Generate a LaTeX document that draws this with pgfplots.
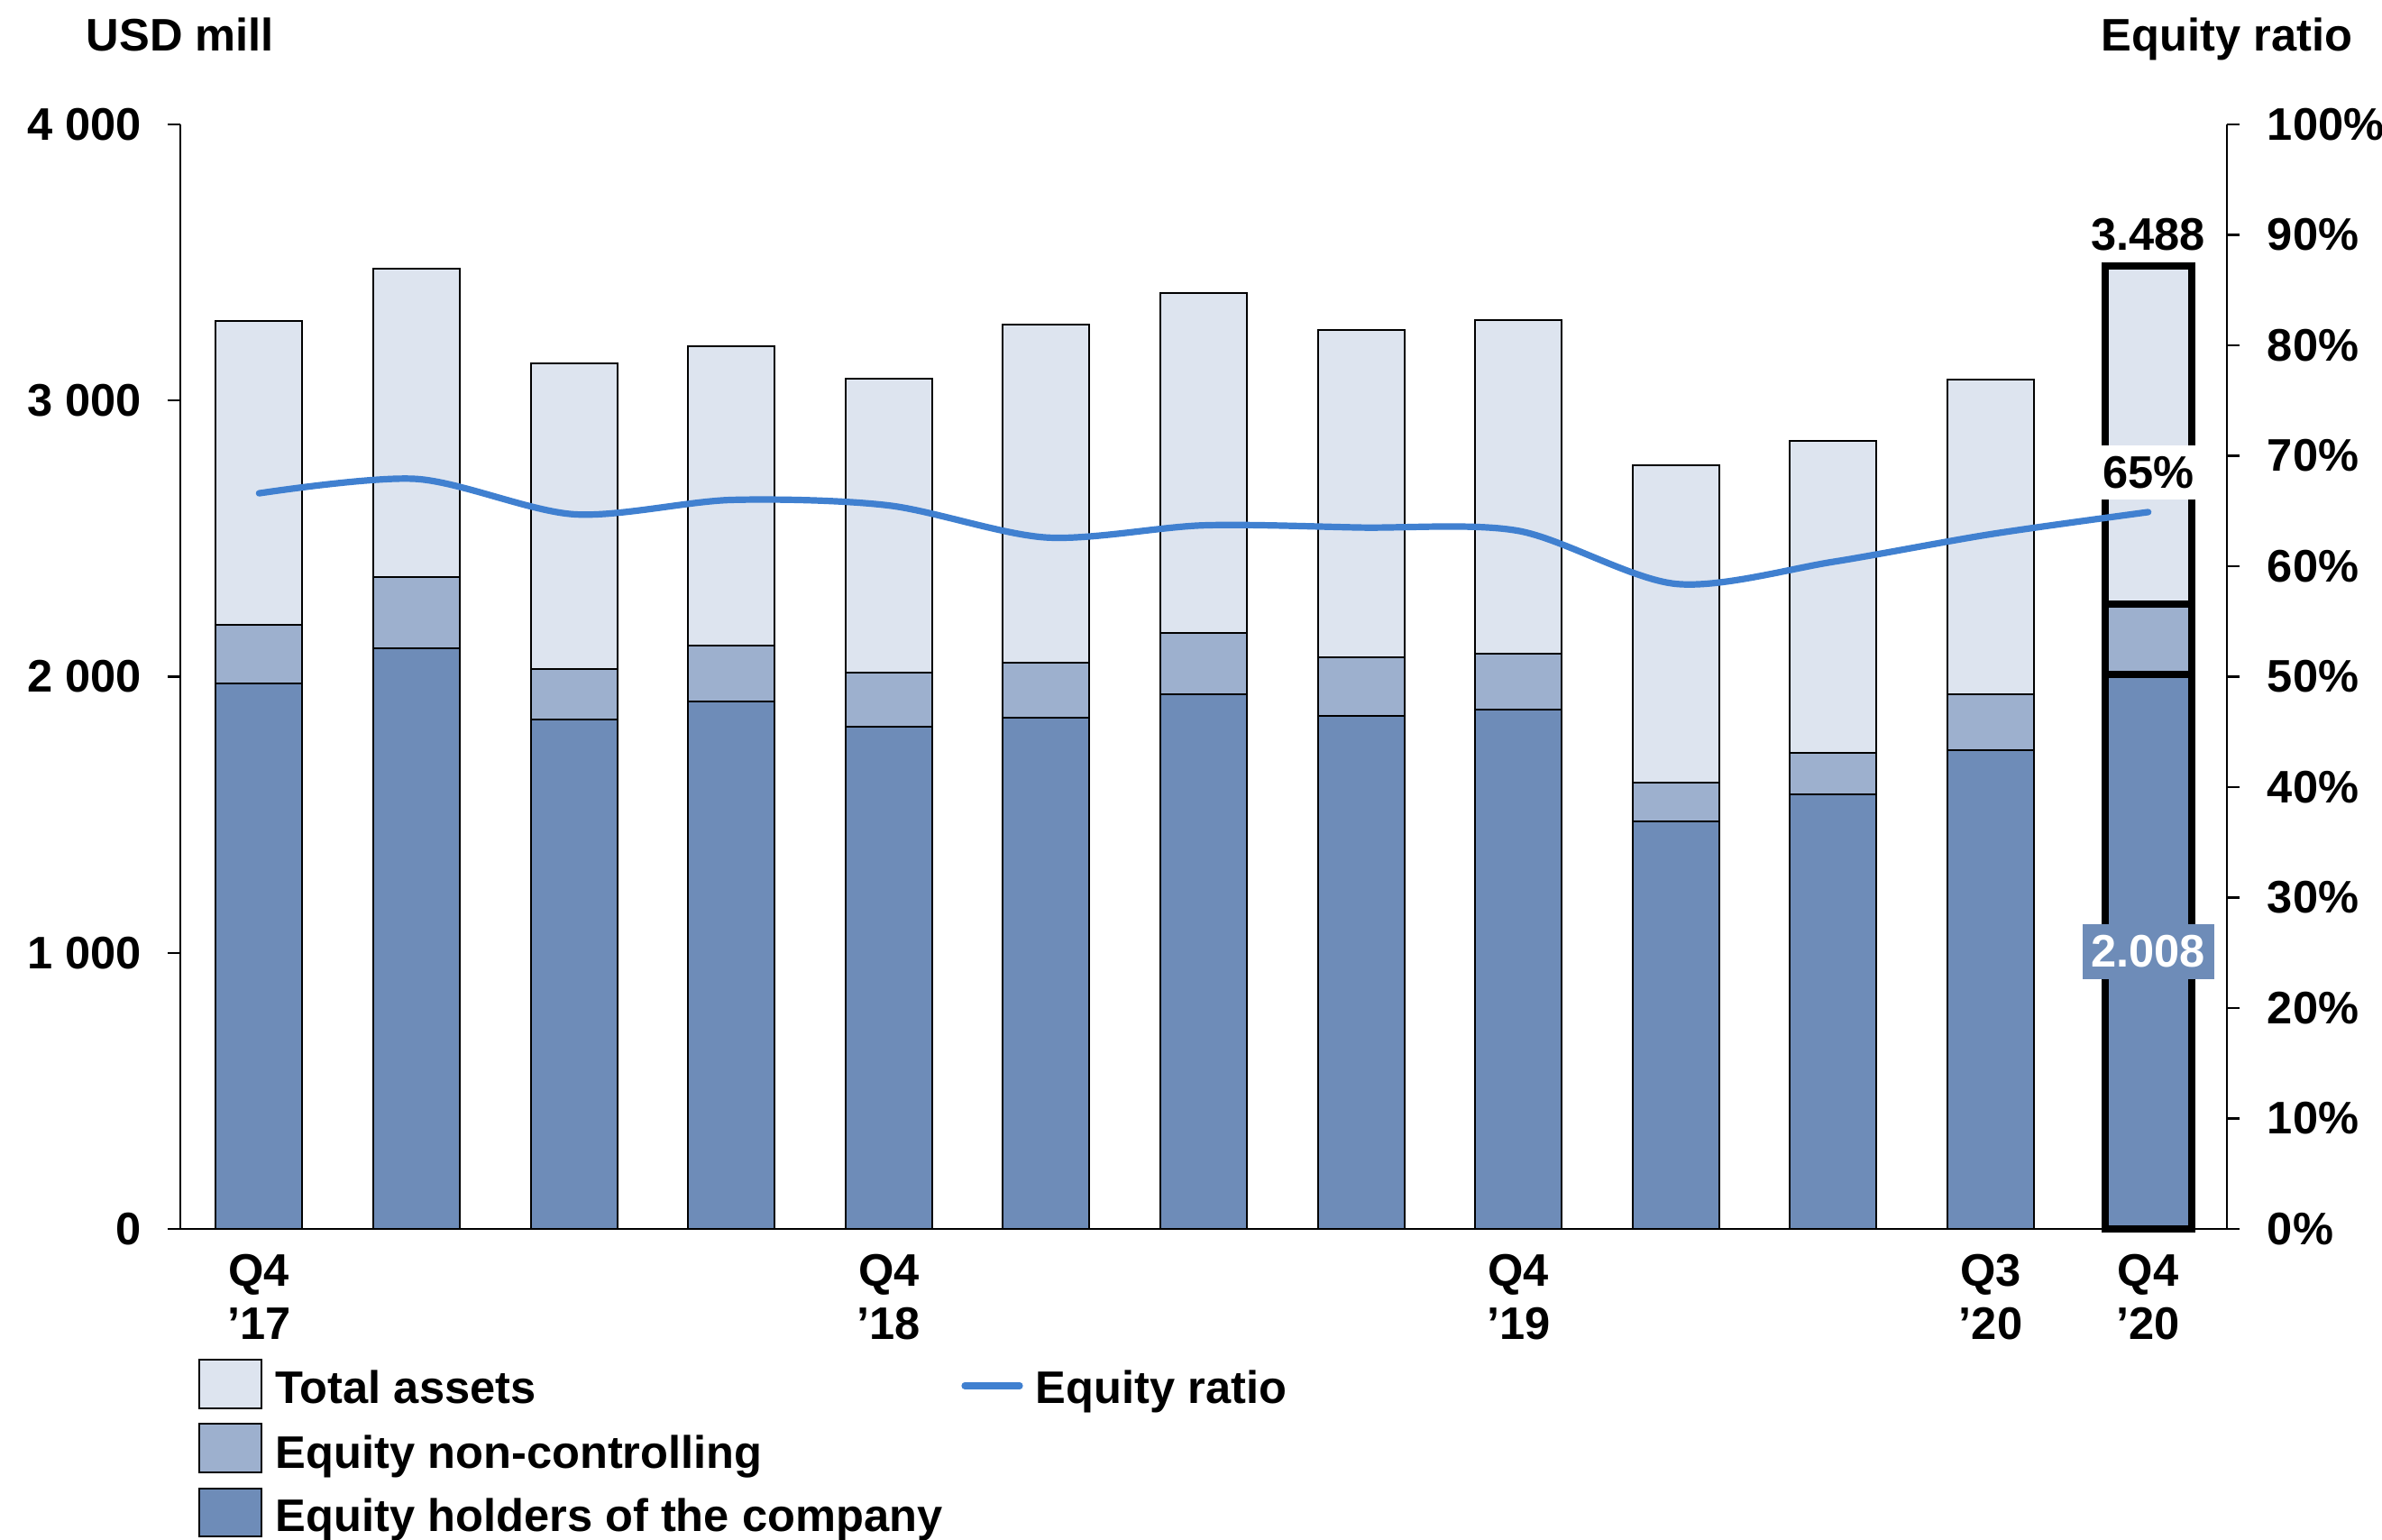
\documentclass[border=0pt]{standalone}
\usepackage{pgfplots}
\pgfplotsset{compat=1.18}
\usepackage{pgfplotstable}
\usepackage{fontspec}
\setmainfont{Liberation Sans}
\definecolor{cLight}{HTML}{DDE4EF}
\definecolor{cMid}{HTML}{9DB0CE}
\definecolor{cDark}{HTML}{6E8CB8}
\definecolor{cLine}{HTML}{4080D0}
\newcommand{\lf}{\fontsize{12.65}{14.75}\selectfont\bfseries}

\pgfplotstableread{
x total equity holders ratio
0 3288 2189 1976 66.6
1 3476 2360 2104 67.9
2 3135 2027 1845 64.7
3 3198 2112 1910 66.0
4 3078 2016 1820 65.5
5 3275 2050 1852 62.6
6 3388 2158 1935 63.7
7 3256 2069 1859 63.5
8 3292 2082 1880 63.2
9 2766 1615 1476 58.4
10 2855 1725 1573 60.4
11 3075 1935 1735 62.9
12 3488 2263 2008 64.9
}\data

\begin{document}
\begin{tikzpicture}
\begin{axis}[
  scale only axis, width=567.5pt, height=306.25pt,
  xmin=-0.5, xmax=12.5, ymin=0, ymax=4000,
  axis y line*=left, axis x line*=bottom,
  axis line style={line width=0.6pt, black},
  ytick={0,1000,2000,3000,4000},
  yticklabels={0,1 000,2 000,3 000,4 000},
  xtick={0,4,8,11,12},
  xticklabels={{Q4\\’17},{Q4\\’18},{Q4\\’19},{Q3\\’20},{Q4\\’20}},
  x tick style={draw=none},
  y tick style={line width=0.6pt, black},
  tick align=outside, major tick length=3.5pt,
  xticklabel style={align=center, font=\lf},
  yticklabel style={font=\lf, xshift=-3.8pt},
  clip=false,
]
\addplot[ybar, bar width=24pt, bar shift=0pt, fill=cLight, draw=black, line width=0.5pt, restrict x to domain=0:11] table[x=x,y=total]{\data};
\addplot[ybar, bar width=24pt, bar shift=0pt, fill=cMid, draw=black, line width=0.5pt, restrict x to domain=0:11] table[x=x,y=equity]{\data};
\addplot[ybar, bar width=24pt, bar shift=0pt, fill=cDark, draw=black, line width=0.5pt, restrict x to domain=0:11] table[x=x,y=holders]{\data};
\addplot[ybar, bar width=24pt, bar shift=0pt, fill=cLight, draw=black, line width=1.9pt, restrict x to domain=12:12] table[x=x,y=total]{\data};
\addplot[ybar, bar width=24pt, bar shift=0pt, fill=cMid, draw=black, line width=1.9pt, restrict x to domain=12:12] table[x=x,y=equity]{\data};
\addplot[ybar, bar width=24pt, bar shift=0pt, fill=cDark, draw=black, line width=1.9pt, restrict x to domain=12:12] table[x=x,y=holders]{\data};
\coordinate (T) at (axis cs:12,3488);
\coordinate (H) at (axis cs:12,1004);
\end{axis}
\begin{axis}[
  scale only axis, width=567.5pt, height=306.25pt,
  xmin=-0.5, xmax=12.5, ymin=0, ymax=100,
  axis y line*=right, axis x line=none,
  axis line style={line width=0.6pt, black},
  ytick={0,10,...,100},
  yticklabels={0\%,10\%,20\%,30\%,40\%,50\%,60\%,70\%,80\%,90\%,100\%},
  y tick style={line width=0.6pt, black},
  tick align=outside, major tick length=3.5pt,
  yticklabel style={font=\lf, xshift=4.2pt},
  clip=false,
]
\addplot[smooth, cLine, line width=1.8pt, line cap=round] table[x=x,y=ratio]{\data};
\coordinate (R) at (axis cs:12,64.9);
\end{axis}
\node[anchor=base, font=\lf] at ([yshift=4.3pt]T) {3.488};
\node[anchor=base, font=\lf, fill=white, inner xsep=1pt, inner ysep=3pt] at ([yshift=6.6pt]R) {65\%};
\node[anchor=center, font=\lf, fill=cDark, text=white, inner xsep=2.4pt, inner ysep=3.1pt] at (H) {2.008};
% titles
\node[anchor=base, font=\lf] at (0pt,326.6pt) {USD mill};
\node[anchor=base, font=\lf] at (567.5pt,326.6pt) {Equity ratio};
% legend
\draw[line width=0.6pt, fill=cLight] (5.25pt,-49.75pt) rectangle (22.5pt,-36.25pt);
\draw[line width=0.6pt, fill=cMid] (5.25pt,-67.5pt) rectangle (22.5pt,-54pt);
\draw[line width=0.6pt, fill=cDark] (5.25pt,-85.25pt) rectangle (22.5pt,-72pt);
\node[anchor=base west, font=\lf, inner sep=0pt] at (26.25pt,-48.5pt) {Total assets};
\node[anchor=base west, font=\lf, inner sep=0pt] at (26.25pt,-66.3pt) {Equity non-controlling};
\node[anchor=base west, font=\lf, inner sep=0pt] at (26.25pt,-84pt) {Equity holders of the company};
\draw[cLine, line width=1.8pt, line cap=round] (217.5pt,-43.5pt) -- (232.75pt,-43.5pt);
\node[anchor=base west, font=\lf, inner sep=0pt] at (237pt,-48.5pt) {Equity ratio};
\pgfresetboundingbox
\useasboundingbox (-50pt,-86.25pt) rectangle (610.5pt,340.75pt);
\end{tikzpicture}
\end{document}
